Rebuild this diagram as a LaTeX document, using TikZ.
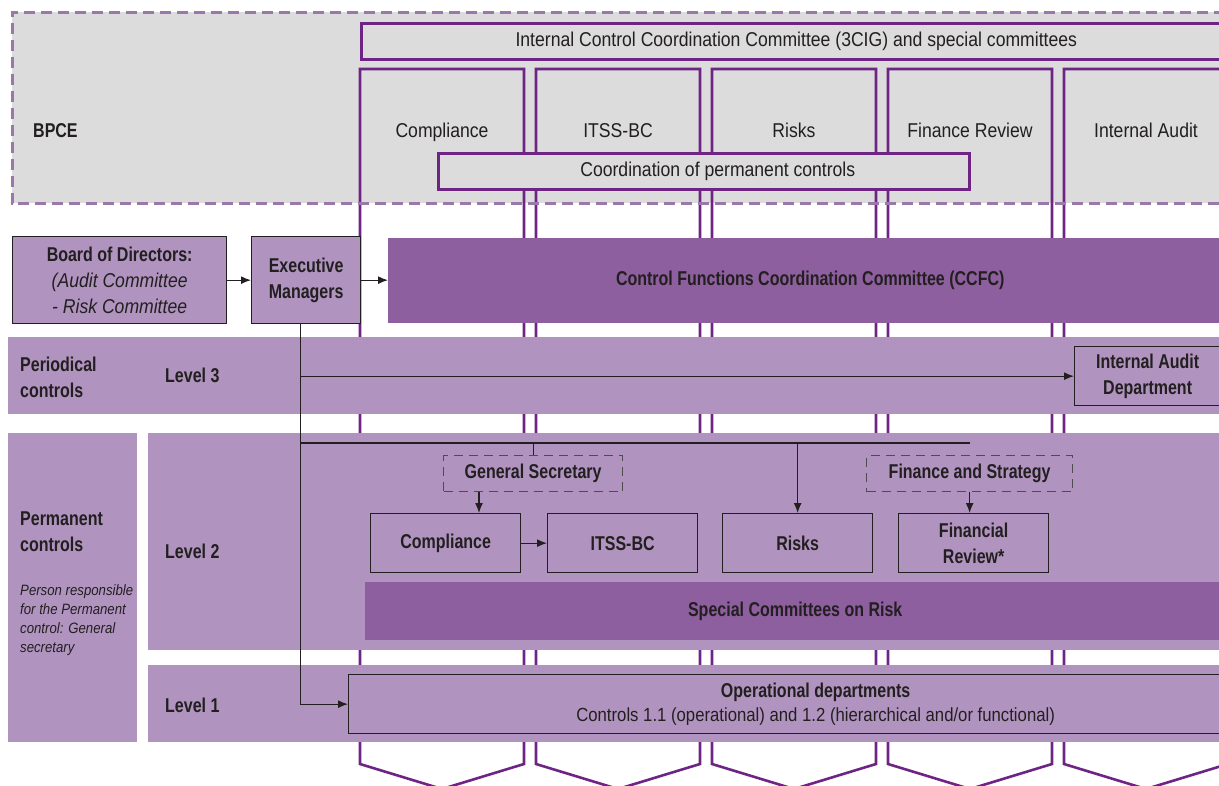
\documentclass[tikz,border=0pt]{standalone}
\usepackage{fontspec}
\setmainfont{Liberation Sans}[FakeStretch=0.88, BoldFeatures={FakeStretch=0.8}, BoldItalicFeatures={FakeStretch=0.8}]
\usetikzlibrary{arrows.meta,calc}
\definecolor{bggrey}{HTML}{DBDCDB}
\definecolor{dashpurple}{HTML}{9A78A9}
\definecolor{colpurple}{HTML}{6E2484}
\definecolor{lpurple}{HTML}{B094BF}
\definecolor{dpurple}{HTML}{8E5F9F}
\definecolor{ink}{HTML}{231F20}
\begin{document}
\begin{tikzpicture}[x=1pt,y=-1pt,
  every node/.style={text=ink},
  reg/.style={font=\fontsize{20}{26}\selectfont, inner sep=0},
  bld/.style={font=\fontsize{20}{26}\selectfont\bfseries, inner sep=0, align=left},
  colline/.style={draw=colpurple, line width=2.6pt, line join=miter},
  greybox/.style={draw=colpurple, line width=2.6pt, fill=bggrey, anchor=north west, inner sep=0,
     font=\fontsize{20}{26}\selectfont},
  band/.style={fill=lpurple, draw=none, anchor=north west, inner sep=0},
  dband/.style={fill=dpurple, draw=none, anchor=north west, inner sep=0,
     font=\fontsize{20}{26}\selectfont\bfseries},
  lbox/.style={draw=ink, line width=1.3pt, fill=lpurple, anchor=north west, inner sep=0,
     align=center, font=\fontsize{20}{26}\selectfont\bfseries},
  dashbox/.style={draw=ink!80, line width=1.3pt, dash pattern=on 9pt off 6pt, fill=lpurple,
     anchor=north west, inner sep=0, font=\fontsize{20}{26}\selectfont\bfseries},
  ln/.style={draw=ink, line width=1.3pt},
  arr/.style={ln, -{Latex[length=10pt,width=8pt]}}
]
\useasboundingbox (0,0) rectangle (1219,785);
\clip (0,0) rectangle (1219,785);

% BPCE area
\node[band, fill=bggrey, minimum width=1230, minimum height=191] (bpcebg) at (12,12) {};
\node[bld, anchor=west] (bpce) at (33,131) {BPCE};

% columns
\foreach \L/\nm/\lab in {360/c1/Compliance, 536/c2/ITSS-BC, 712/c3/Risks, 888/c4/Finance Review, 1064/c5/Internal Audit}{
  \draw[colline] (\L+82,789) -- (\L,764) -- (\L,69) -- (\L+164,69) -- (\L+164,764) -- cycle;
  \node[reg, text height=14.5pt, text depth=0pt] (\nm) at (\L+82,130) {\lab};
}

% top committee bar
\node[greybox, minimum width=870, minimum height=36] (icc) at (360,22)
  {Internal Control Coordination Committee (3CIG) and special committees};
% coordination
\node[greybox, minimum width=531, minimum height=36] (coord) at (437,152)
  {\hspace*{28pt}Coordination of permanent controls};

% dashed border of BPCE
\draw[draw=dashpurple, line width=3pt, dash pattern=on 11pt off 6pt]
  (bpcebg.north east) -- (bpcebg.north west) -- (bpcebg.south west) -- (bpcebg.south east);

% governance row
\node[lbox, minimum width=214, minimum height=87] (board) at (12,236)
  {Board of Directors:\\ \textit{\mdseries(Audit Committee}\\ \textit{\mdseries- Risk Committee}};
\node[lbox, minimum width=109, minimum height=87] (exec) at (251,236) {Executive\\Managers};
\node[dband, minimum width=844, minimum height=85] (ccfc) at (388,238)
  {Control Functions Coordination Committee (CCFC)};
\draw[arr] (board.east) -- (exec.west);
\draw[arr] (exec.east) -- (ccfc.west |- exec.east);

% Level 3
\node[band, minimum width=1222, minimum height=77] (band3) at (8,337) {};
\node[bld, anchor=west] (periodical) at (20,377.5) {Periodical\\controls};
\node[bld, anchor=west] (lev3) at (165,375) {Level 3};
\node[lbox, minimum width=146, minimum height=59] (iad) at (1074,346) {Internal Audit\\Department};

% Permanent + Level 2 + Level 1 bands
\node[band, minimum width=129, minimum height=309] (perm) at (8,433) {};
\node[band, minimum width=1082, minimum height=217] (band2) at (148,433) {};
\node[band, minimum width=1082, minimum height=77] (band1) at (148,665) {};
\node[bld, anchor=west] (permtxt) at (20,532) {Permanent\\controls};
\node[anchor=west, inner sep=0, align=left, font=\fontsize{15}{19}\selectfont\itshape] (permnote) at (20,620)
  {Person responsible\\for the Permanent\\control: General\\secretary};
\node[bld, anchor=west] (lev2) at (165,551) {Level 2};
\node[bld, anchor=west] (lev1) at (165,705) {Level 1};

% Level 2 content
\node[dashbox, minimum width=179, minimum height=36] (gs) at (443,455) {General Secretary};
\node[dashbox, minimum width=206, minimum height=36] (fs) at (866,455) {Finance and Strategy};
\node[lbox, minimum width=150, minimum height=59] (comp) at (370,513) {Compliance};
\node[lbox, minimum width=150, minimum height=59] (itss) at (547,513) {ITSS-BC};
\node[lbox, minimum width=150, minimum height=59] (risks) at (722,513) {Risks};
\node[lbox, minimum width=150, minimum height=59] (finrev) at (898,513) {Financial\\Review*};
\node[dband, minimum width=860, minimum height=58] (scr) at (365,582) {Special Committees on Risk};

% Level 1 content
\node[lbox, minimum width=934, minimum height=59, font=\fontsize{19}{24}\selectfont] (ops) at (348,674)
  {\textbf{\fontsize{20}{24}\selectfont Operational departments}\\Controls 1.1 (operational) and 1.2 (hierarchical and/or functional)};

% connectors
\coordinate (vl) at ([xshift=-5.5pt]exec.south);
\coordinate (hl) at (970,443);
\draw[arr] (vl) |- (ops.west);
\draw[arr] (vl |- iad.west) -- (iad.west);
\draw[ln] (vl |- hl) -- (hl);
\draw[ln] (gs.north |- hl) -- (gs.north);
\draw[arr] (risks.north |- hl) -- (risks.north);
\draw[arr] ($(gs.south west)+(36,0)$) -- ($(comp.north west)+(109,0)$);
\draw[arr] (comp.east) -- (itss.west);
\draw[arr] (fs.south) -- (fs.south |- finrev.north);
\end{tikzpicture}
\end{document}
